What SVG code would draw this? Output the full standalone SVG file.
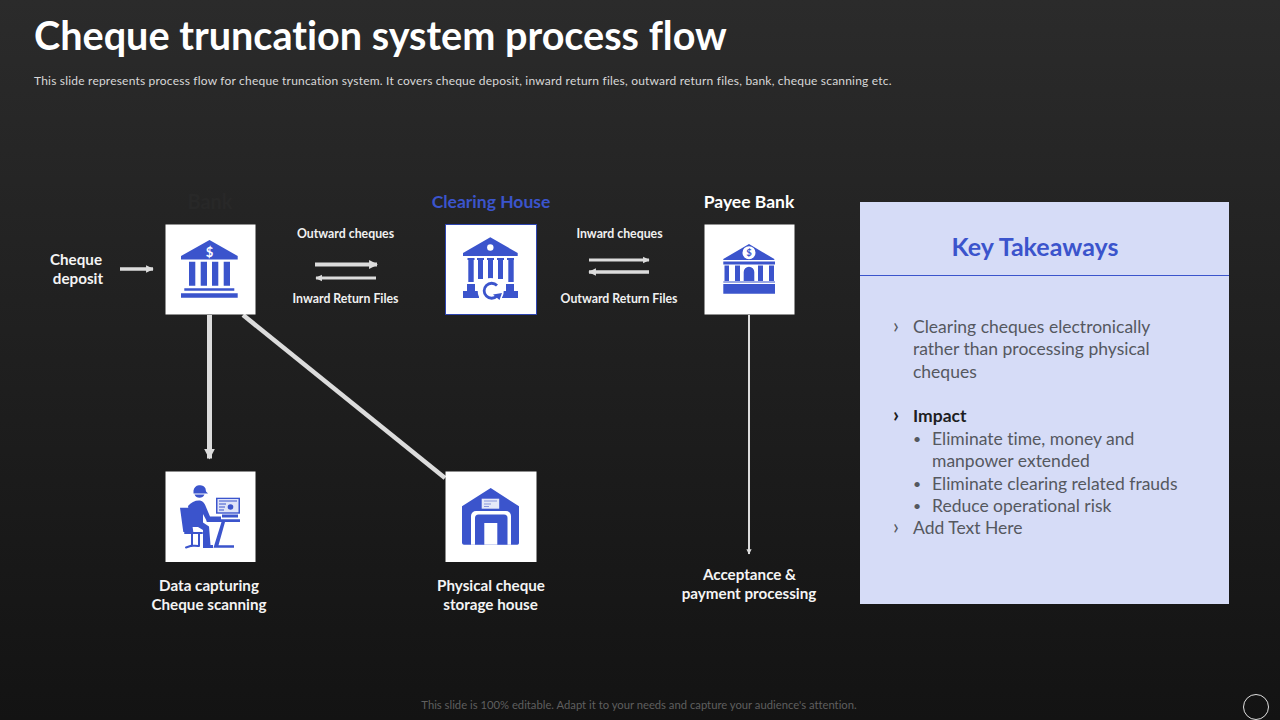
<svg xmlns="http://www.w3.org/2000/svg" width="1280" height="720" viewBox="0 0 1280 720">
<defs>
<linearGradient id="bg" x1="0" y1="0" x2="0" y2="1"><stop offset="0" stop-color="#2b2b2b"/><stop offset="1" stop-color="#131313"/></linearGradient>
<marker id="ah" viewBox="0 0 10 10" refX="9" refY="5" markerWidth="2.2" markerHeight="2.4" orient="auto" markerUnits="strokeWidth"><path d="M0 0L10 5L0 10Z" fill="#dcdcdc"/></marker>
<marker id="ah2" viewBox="0 0 10 10" refX="9" refY="5" markerWidth="2.6" markerHeight="2.6" orient="auto" markerUnits="strokeWidth"><path d="M0 0L10 5L0 10Z" fill="#dcdcdc"/></marker>
</defs>
<style>
text{font-family:"Lato","Open Sans","Liberation Sans",sans-serif;font-variant-ligatures:none}
.lbl{font-size:15.2px;font-weight:700;fill:#f4f4f4;text-anchor:middle}
.sm{font-size:12.3px;font-weight:700;fill:#f0f0f0;text-anchor:middle}
.hd{font-size:17.5px;font-weight:700;text-anchor:middle}
.box{fill:#fff}
.ic{fill:#3b54cc}
.lim{fill:none;stroke:#3b54cc;stroke-linecap:round;stroke-linejoin:round}
.cn{fill:none;stroke:#dcdcdc}
.body{font-size:17.5px;fill:#55585f}
.chev{font-size:21px;fill:#55585f}
.dot{font-size:14px;fill:#55585f}
.strong{fill:#1e1e22;font-weight:700}
</style>
<rect width="1280" height="720" fill="url(#bg)"/>
<text x="34" y="50" font-size="39.600" font-weight="700" fill="#fff">Cheque truncation system process flow</text>
<text x="34" y="85" font-size="12" letter-spacing="0.2" fill="#d8d8d8">This slide represents process flow for cheque truncation system. It covers cheque deposit, inward return files, outward return files, bank, cheque scanning etc.</text>

<g id="connectors">
<path class="cn" stroke-width="3.500" d="M120 269H153" marker-end="url(#ah)"/>
<path class="cn" stroke-width="5" d="M209.500 315V458.500" marker-end="url(#ah)"/>
<path class="cn" stroke-width="4.500" d="M243 315L445 478"/>
<path class="cn" stroke-width="2" d="M749 315V554" marker-end="url(#ah2)"/>
<path class="cn" stroke-width="4" d="M315 264.500H377" marker-end="url(#ah)"/>
<path class="cn" stroke-width="3" d="M376 278H316" marker-end="url(#ah)"/>
<path class="cn" stroke-width="3" d="M589 260H649" marker-end="url(#ah)"/>
<path class="cn" stroke-width="3.500" d="M649 272H589" marker-end="url(#ah)"/>
</g>

<g id="deposit"><text class="lbl" x="76" y="265">Cheque</text><text class="lbl" x="78" y="284">deposit</text></g>
<g id="outward-labels"><text class="sm" x="345.500" y="238">Outward cheques</text><text class="sm" x="345.500" y="303">Inward Return Files</text></g>
<g id="inward-labels"><text class="sm" x="619.500" y="238">Inward cheques</text><text class="sm" x="619" y="303">Outward Return Files</text></g>

<g id="bank">
<text class="hd" x="210" y="209" style="font-size:20px" fill="#282828">Bank</text>
<rect class="box" x="165.500" y="224.500" width="90" height="90"/>
<path class="ic" d="M209.500 240L237.700 256V259.500H181V256ZM189 261.700h6.300v24H189ZM200.700 261.700h6.300v24h-6.300ZM212 261.700h6.300v24H212ZM223.700 261.700h6.300v24h-6.300ZM184.300 288.300h50v2.400h-50ZM181 293.300h56.700v4.400H181Z"/>
<text x="209.500" y="256.500" font-size="13" font-weight="700" fill="#fff" text-anchor="middle">$</text>
</g>

<g id="clearing-house">
<text class="hd" x="491" y="208" fill="#3b54cc">Clearing House</text>
<rect class="box" x="445.500" y="224.500" width="91" height="90" stroke="#2e45b0" stroke-width="1"/>
<path class="ic" d="M490.300 237.300L517.700 253V256H463V253ZM467.500 258H474.500V260H473.700V282H468.300V260H467.500ZM477 258H484V260H483V279H478V260H477ZM487 258H494V260H493V279H488V260H487ZM497 258H504V260H503V279H498V260H497ZM507 258H514V260H513.700V282H508.300V260H507ZM467 284H475V291H479V298H463V291H467ZM506 284H514V291H518V298H502V291H506Z"/>
<circle cx="490.300" cy="247.500" r="3.200" fill="#fff"/>
<circle cx="490.700" cy="291" r="13" fill="#fff"/>
<path d="M497 285.500A7.500 7.500 0 1 0 497 296" fill="none" stroke="#3b54cc" stroke-width="2.800"/>
<path class="ic" d="M493 294.500L502 293L499.500 300Z"/>
</g>

<g id="payee-bank">
<text class="hd" x="749" y="208" fill="#fff">Payee Bank</text>
<rect class="box" x="704.500" y="224.500" width="90" height="90"/>
<path class="ic" d="M749 244L774.300 259V260H723.300V259ZM723.300 261.500H775V264.500H723.300ZM724.500 265.500H729V281H724.500ZM735 265.500H740V281H735ZM758 265.500H763V281H758ZM769 265.500H774V281H769ZM743.700 281V272A5.300 5.300 0 0 1 754.300 272V281ZM723.300 281.500H775V282.500H723.300ZM723.300 284H775V293.700H723.300Z"/>
<circle cx="749" cy="252.700" r="6.500" fill="#fff"/>
<text x="749" y="256.300" font-size="9.500" font-weight="700" fill="#3b54cc" text-anchor="middle">$</text>
</g>
<g id="acceptance"><text class="lbl" x="749.500" y="580">Acceptance &amp;</text><text class="lbl" x="749" y="599">payment processing</text></g>

<g id="data-capture">
<rect class="box" x="165.500" y="471.500" width="90" height="90.500"/>
<path class="ic" d="M193.500 490.500A6.500 6.500 0 0 1 205.500 488.500L206 491.500L208 493.500H193.500ZM194.500 494.500H204.500A5.500 5.500 0 0 1 194.500 494.500ZM180 507.700H190L193.300 532H183.300ZM188 506C191 502 196 500 200 500.500C203 501 205 504 206 507L210 516.500H221V521.500H207L203 514V522.500L209 526.500L210.500 545H213V548H203V530L198 527H191.500Z"/>
<path class="lim" stroke-width="2" d="M185 533H202M192 533V546M199 533V546M186 547.500L192 545.500L198 546"/>
<path class="ic" d="M206.700 519.300H240V522H225L218.500 545.300H234V547.700H213.500L221.500 522H206.700Z"/>
<path class="ic" d="M216 497.700H240V513.700H216Z"/>
<rect x="217.500" y="499" width="21" height="13.300" fill="#dfe3f8"/>
<circle cx="230.500" cy="507" r="2.800" fill="#3b54cc"/>
<path d="M219 501H237M219 504H226M219 507H225M219 510H224" stroke="#3b54cc" stroke-width="1"/>
<rect class="ic" x="222" y="514.500" width="16" height="3"/>
</g>
<g id="data-labels"><text class="lbl" x="209" y="591">Data capturing</text><text class="lbl" x="209" y="610">Cheque scanning</text></g>

<g id="storage">
<rect class="box" x="445.500" y="471.500" width="91" height="90.500"/>
<path class="ic" d="M490.700 488L519 506.300V543A1.700 1.700 0 0 1 517.300 544.700H464A2 2 0 0 1 462 543V506.300Z"/>
<path d="M471 544.700V516A5 5 0 0 1 476 511H506A5 5 0 0 1 511 516V544.700Z" fill="#fff"/>
<path class="ic" d="M475 544.700V518A3.500 3.500 0 0 1 478.500 514.500H504A3.500 3.500 0 0 1 507.500 518V544.700Z"/>
<rect x="484.300" y="523" width="13" height="21.700" fill="#fff"/>
<rect x="481.700" y="498.700" width="17.500" height="10" fill="#e6e9f8"/>
<path d="M484 501H497M484 504H491M484 506.500H489" stroke="#8a97dc" stroke-width="1"/>
</g>
<g id="storage-labels"><text class="lbl" x="491" y="591">Physical cheque</text><text class="lbl" x="490.500" y="610">storage house</text></g>

<g id="takeaways">
<rect x="860" y="202" width="369" height="402" fill="#d6dcf7"/>
<path d="M860 275.500H1229" stroke="#3b54cc" stroke-width="1"/>
<text x="1035" y="256" font-size="25" font-weight="700" fill="#3b54cc" text-anchor="middle">Key Takeaways</text>
<text class="chev" x="893" y="333">›</text><text class="body" x="913" y="333">Clearing cheques electronically</text>
<text class="body" x="913" y="355">rather than processing physical</text>
<text class="body" x="913" y="378">cheques</text>
<text class="chev strong" x="893" y="422">›</text><text class="body strong" x="913" y="422">Impact</text>
<text class="dot" x="913" y="444">•</text><text class="body" x="932" y="445">Eliminate time, money and</text>
<text class="body" x="932" y="467">manpower extended</text>
<text class="dot" x="913" y="489">•</text><text class="body" x="932" y="490">Eliminate clearing related frauds</text>
<text class="dot" x="913" y="511">•</text><text class="body" x="932" y="512">Reduce operational risk</text>
<text class="chev" x="893" y="534">›</text><text class="body" x="913" y="534">Add Text Here</text>
</g>
<text x="639" y="709" font-size="11.250" fill="#5f5f5f" text-anchor="middle">This slide is 100% editable. Adapt it to your needs and capture your audience's attention.</text>
<circle cx="1256" cy="707" r="12.500" fill="none" stroke="#e0e0e0" stroke-width="1"/>
</svg>
